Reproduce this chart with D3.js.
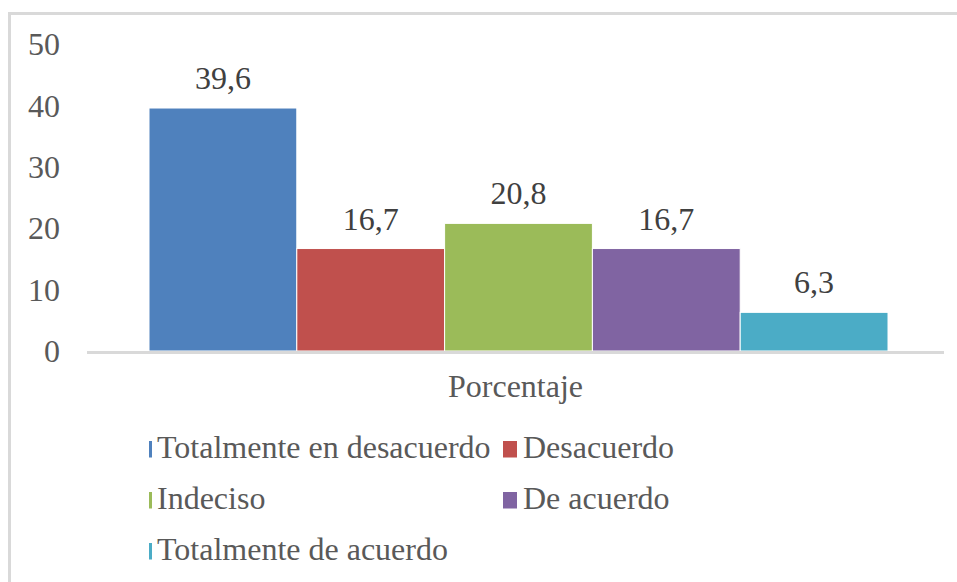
<!DOCTYPE html>
<html>
<head>
<meta charset="utf-8">
<script src="https://cdn.jsdelivr.net/npm/d3@7"></script>
<style>
  html, body { margin: 0; padding: 0; background: #fff; }
  svg { display: block; }
  svg text { font-family: "Liberation Serif", "DejaVu Serif"; }
</style>
</head>
<body>
<svg id="chart" width="957" height="582"></svg>
<script>
const categories = ["Porcentaje"];
const seriesNames = ["Totalmente en desacuerdo", "Desacuerdo", "Indeciso", "De acuerdo", "Totalmente de acuerdo"];
const seriesValues = [39.6, 16.7, 20.8, 16.7, 6.3];
const seriesColors = ["#4F81BD", "#C0504D", "#9BBB59", "#8064A2", "#4BACC6"];
const tickValues = [0, 10, 20, 30, 40, 50];

const svg = d3.select("#chart");
const fs = 32;

// chart border (extends off the right/bottom edge like the reference)
svg.append("rect")
  .attr("x", 9.5).attr("y", 13.5)
  .attr("width", 1000).attr("height", 1000)
  .attr("fill", "none").attr("stroke", "#d9d9d9").attr("stroke-width", 3);

const plotLeft = 87, plotRight = 944, plotTop = 44.2, plotBottom = 351;

const y = d3.scaleLinear().domain([0, 50]).range([plotBottom, plotTop]);
const x0 = d3.scaleBand().domain(categories).range([149, 888]).padding(0);
const x1 = d3.scaleBand().domain(seriesNames).range([0, x0.bandwidth()]).padding(0);

// y axis labels
const yAxis = d3.axisLeft(y).tickValues(tickValues).tickSize(0).tickPadding(0)
  .tickFormat(d => String(d));
const yg = svg.append("g").attr("transform", `translate(60,0)`).call(yAxis);
yg.attr("font-family", null).attr("font-size", null);
yg.select(".domain").remove();
yg.selectAll("text")
  .style("font-size", fs + "px").attr("fill", "#595959")
  .attr("dy", "0.33em");

// bars
const rows = seriesNames.map((n, i) => ({ name: n, value: seriesValues[i], color: seriesColors[i] }));
const g = svg.append("g").attr("transform", `translate(${x0(categories[0])},0)`);
g.selectAll("rect.bar").data(rows).join("rect")
  .attr("class", "bar")
  .attr("x", d => x1(d.name))
  .attr("width", x1.bandwidth())
  .attr("y", d => y(d.value))
  .attr("height", d => y(0) - y(d.value))
  .attr("fill", d => d.color)
  .attr("stroke", "#fff").attr("stroke-width", 1);

// data labels
g.selectAll("text.lbl").data(rows).join("text")
  .attr("class", "lbl")
  .attr("x", d => x1(d.name) + x1.bandwidth() / 2)
  .attr("y", d => y(d.value) - 19)
  .attr("text-anchor", "middle")
  .style("font-size", fs + "px").attr("fill", "#404040")
  .text(d => d3.format(".1f")(d.value).replace(".", ","));

// x axis line
svg.append("line")
  .attr("x1", plotLeft).attr("x2", plotRight)
  .attr("y1", plotBottom + 1.5).attr("y2", plotBottom + 1.5)
  .attr("stroke", "#d9d9d9").attr("stroke-width", 3);

// category label
svg.append("text")
  .attr("x", x0(categories[0]) + x0.bandwidth() / 2 - 3)
  .attr("y", 397)
  .attr("text-anchor", "middle")
  .style("font-size", fs + "px").attr("fill", "#595959")
  .text(categories[0]);

// legend
const colX = [149, 503];
const rowY = [458, 509, 560];
const lg = svg.append("g");
rows.forEach((d, i) => {
  const c = i % 2, r = Math.floor(i / 2);
  const mw = c === 0 ? 3 : 14;
  lg.append("rect")
    .attr("x", colX[c]).attr("y", rowY[r] - 17)
    .attr("width", mw).attr("height", 16.5)
    .attr("fill", d.color);
  lg.append("text")
    .attr("x", c === 0 ? 157 : 523)
    .attr("y", rowY[r])
    .style("font-size", fs + "px").attr("fill", "#595959")
    .text(d.name);
});
</script>
</body>
</html>
